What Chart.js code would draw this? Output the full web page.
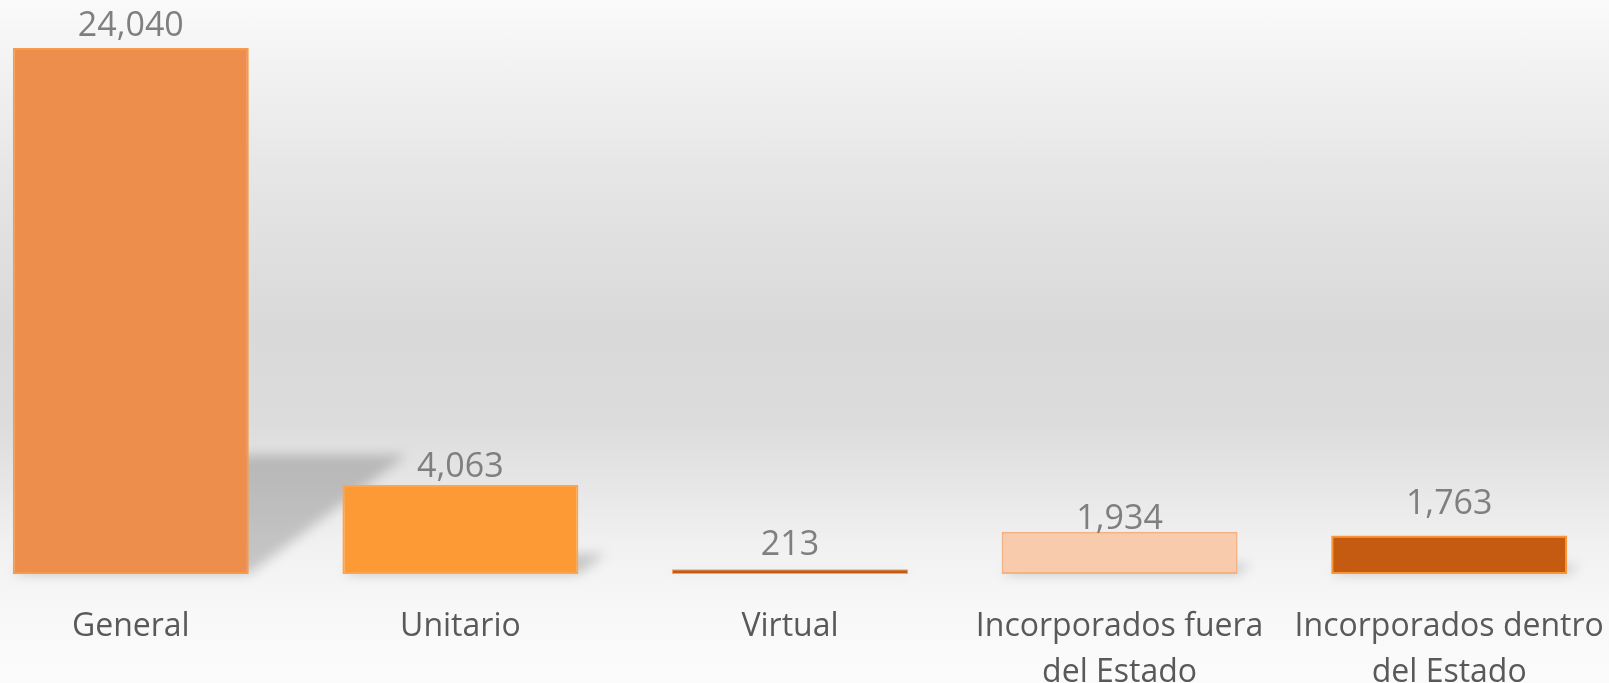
<!DOCTYPE html>
<html>
<head>
<meta charset="utf-8">
<script src="https://cdn.jsdelivr.net/npm/chart.js@4/dist/chart.umd.min.js"></script>
<style>
  html, body { margin: 0; padding: 0; width: 1609px; height: 683px; overflow: hidden; }
  body {
    background: linear-gradient(to bottom, #fafafa 0%, #e6e6e6 25%, #d9d9d9 48%, #dcdcdc 62%, #f1f1f1 80%, #f8f8f8 90%, #fbfbfb 100%);
    position: relative;
  }
  #wrap { position: absolute; left: -34px; top: 0; width: 1648px; height: 683px; }
</style>
</head>
<body>
<div id="wrap"><canvas id="chart"></canvas></div>
<script>
// categories and values
const categories = [
    'General',
    'Unitario',
    'Virtual',
    ['Incorporados fuera', 'del Estado'],
    ['Incorporados dentro', 'del Estado']
];
const values = [24040, 4063, 213, 1934, 1763];

// bar colours
const fillColors = ['#ed8e4d', '#fe9a36', '#c55a11', '#f8cbad', '#c55a11'];
const borderColors = ['#f79b4a', '#fea54a', '#f8a160', '#f4b183', '#fa9536'];
const borderWidths = [2, 2, 1, 2, 2];
// data label lift above bar top (px)
const labelLift = [22, 18, 24, 12, 31];

// perspective shadow behind each bar
const shadowPlugin = {
    id: 'barShadow',
    beforeDatasetsDraw(chart) {
        const ctx = chart.ctx;
        const meta = chart.getDatasetMeta(0);
        ctx.save();
        ctx.filter = 'blur(6px)';
        ctx.fillStyle = 'rgba(0,0,0,0.19)';
        meta.data.forEach(bar => {
            const p = bar.getProps(['x', 'y', 'base', 'width'], true);
            const h = p.base - p.y;
            const l = p.x - p.width / 2, r = p.x + p.width / 2;
            const dx = h * 0.30, dy = h * 0.226;
            ctx.beginPath();
            ctx.moveTo(l, p.base);
            ctx.lineTo(r, p.base);
            ctx.lineTo(r + dx, p.base - dy);
            ctx.lineTo(l + dx, p.base - dy);
            ctx.closePath();
            ctx.fill();
        });
        ctx.restore();
    }
};

// value labels above bars
const valueLabels = {
    id: 'valueLabels',
    afterDatasetsDraw(chart) {
        const ctx = chart.ctx;
        const meta = chart.getDatasetMeta(0);
        ctx.save();
        ctx.font = '34px "Open Sans", sans-serif';
        ctx.fillStyle = '#7f7f7f';
        ctx.textAlign = 'center';
        ctx.textBaseline = 'middle';
        meta.data.forEach((bar, i) => {
            const p = bar.getProps(['x', 'y'], true);
            ctx.fillText(values[i].toLocaleString('en-US'), p.x, p.y - labelLift[i]);
        });
        ctx.restore();
    }
};

new Chart(document.getElementById('chart'), {
    type: 'bar',
    data: {
        labels: categories,
        datasets: [{
            data: values,
            backgroundColor: fillColors,
            borderColor: borderColors,
            borderWidth: borderWidths,
            borderSkipped: false,
            categoryPercentage: 1,
            barPercentage: 0.716
        }]
    },
    options: {
        responsive: true,
        maintainAspectRatio: false,
        animation: false,
        layout: { padding: 0 },
        plugins: {
            legend: { display: false },
            tooltip: { enabled: false }
        },
        scales: {
            y: { display: false, min: 0, max: 26233 },
            x: {
                grid: { display: false },
                border: { display: false },
                ticks: {
                    color: '#595959',
                    padding: 22,
                    maxRotation: 0,
                    autoSkip: false,
                    font: { family: '"Open Sans", sans-serif', size: 32, lineHeight: 1.4375 }
                },
                afterFit(scale) {
                    scale.height = 109;
                    scale.paddingLeft = 0;
                    scale.paddingRight = 0;
                }
            }
        }
    },
    plugins: [shadowPlugin, valueLabels]
});
</script>
</body>
</html>
